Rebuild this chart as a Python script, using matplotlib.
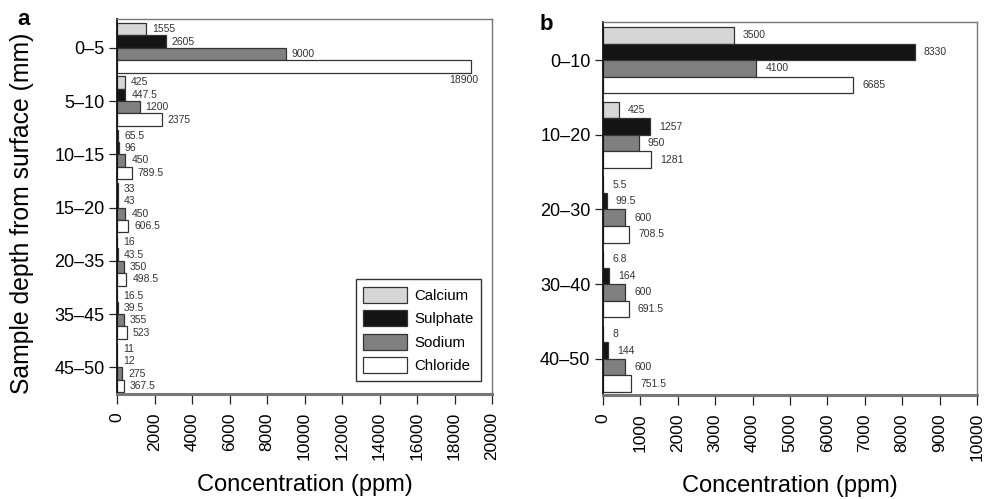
import numpy as np
import matplotlib
matplotlib.use("Agg")
from matplotlib import pyplot as plt

plt.rcParams['font.family'] = ['Liberation Sans', 'DejaVu Sans']

ions = ['Calcium', 'Sulphate', 'Sodium', 'Chloride']
colors = ['#d6d6d6', '#141414', '#808080', '#ffffff']

# panel a
depth_a = ['0\u20135', '5\u201310', '10\u201315', '15\u201320', '20\u201335', '35\u201345', '45\u201350']
calcium_a = [1555, 425, 65.5, 33, 16, 16.5, 11]
sulphate_a = [2605, 447.5, 96, 43, 43.5, 39.5, 12]
sodium_a = [9000, 1200, 450, 450, 350, 355, 275]
chloride_a = [18900, 2375, 789.5, 606.5, 498.5, 523, 367.5]
xticks_a = list(range(0, 20001, 2000))

# panel b
depth_b = ['0\u201310', '10\u201320', '20\u201330', '30\u201340', '40\u201350']
calcium_b = [3500, 425, 5.5, 6.8, 8]
sulphate_b = [8330, 1257, 99.5, 164, 144]
sodium_b = [4100, 950, 600, 600, 600]
chloride_b = [6685, 1281, 708.5, 691.5, 751.5]
xticks_b = list(range(0, 10001, 1000))


def panel(ax, depths, series, xticks, xmax, pitch, ylim, txt_off, legend=False):
    n = len(depths)
    base = np.arange(n) * pitch
    for k, vals in enumerate(series):
        y = base + k
        ax.barh(y, vals, height=1.0, color=colors[k], edgecolor='#333333',
                linewidth=0.9, label=ions[k], zorder=2)
        for yy, v in zip(y, vals):
            if v > 0.9 * xmax:
                # no room on the right, put it under the bar
                ax.annotate('%g' % v, (v, yy + 0.5), xytext=(-8, -2),
                            textcoords='offset pixels', ha='center', va='top',
                            fontsize=7.5, color='#333333')
            else:
                ax.annotate('%g' % v, (v, yy), xytext=(txt_off, 0),
                            textcoords='offset pixels', ha='left', va='center',
                            fontsize=7.5, color='#333333')
    ax.set_xlim(0, xmax)
    ax.set_ylim(ylim[1], ylim[0])
    ax.set_yticks(base + 1.5)
    ax.set_yticklabels(depths, fontsize=13)
    ax.set_xticks(xticks)
    ax.set_xticklabels([str(t) for t in xticks], rotation=90, fontsize=12.5)
    ax.tick_params(axis='y', length=6, width=0.9, pad=3, color='#222222')
    ax.tick_params(axis='x', length=7, width=0.9, pad=6, color='#222222')
    for s in ['top', 'right']:
        ax.spines[s].set_color('#777777')
        ax.spines[s].set_linewidth(1.0)
    ax.spines['left'].set_color('#111111')
    ax.spines['left'].set_linewidth(1.3)
    ax.spines['bottom'].set_color('#777777')
    ax.spines['bottom'].set_linewidth(2.2)
    ax.set_xlabel('Concentration (ppm)', fontsize=17, labelpad=10)
    if legend:
        leg = ax.legend(loc='lower right', bbox_to_anchor=(0.971, 0.035),
                        fontsize=10.8, handlelength=2.9, handleheight=1.27,
                        labelspacing=0.5, handletextpad=0.5, borderpad=0.5,
                        fancybox=False, framealpha=1, borderaxespad=0)
        leg.get_frame().set_edgecolor('#333333')
        leg.get_frame().set_linewidth(1.0)


fig = plt.figure(figsize=(9.88, 4.99), dpi=100)
ax1 = fig.add_axes([117 / 988, 105 / 499, 375 / 988, 375 / 499])
ax2 = fig.add_axes([603 / 988, 104 / 499, 374 / 988, 373 / 499])

panel(ax1, depth_a, [calcium_a, sulphate_a, sodium_a, chloride_a], xticks_a,
      20000, 4.3, (-0.82, 29.45), 6, legend=True)
panel(ax2, depth_b, [calcium_b, sulphate_b, sodium_b, chloride_b], xticks_b,
      10000, 4.5, (-0.8, 21.68), 9)

ax1.set_ylabel('Sample depth from surface (mm)', fontsize=17.8, va='center')
ax1.yaxis.set_label_coords(-0.253, 0.481)

fig.text(17 / 988, 1 - 25 / 499, 'a', fontsize=16, fontweight='bold', va='baseline')
fig.text(540 / 988, 1 - 30 / 499, 'b', fontsize=16, fontweight='bold', va='baseline')

fig.savefig('out.png', dpi=100)
